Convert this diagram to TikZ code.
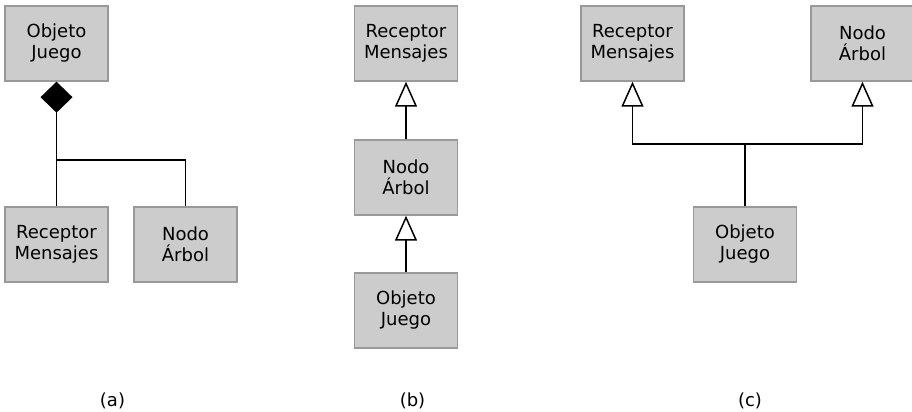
\documentclass[tikz,border=0pt]{standalone}
\usepackage{fontspec}
\setmainfont{DejaVu Sans}
\usetikzlibrary{arrows.meta}

\tikzset{
    class node/.style={rectangle,draw=gray!80,fill=gray!40,line width=0.7pt,
        minimum width=51.5pt,minimum height=37.5pt,align=center,
        font=\fontsize{9}{10.5}\selectfont},
    caption node/.style={font=\fontsize{9}{10.5}\selectfont},
    link/.style={draw,line width=0.75pt},
    compose/.style={link,{Diamond[length=15.5pt,width=16pt]}-},
    inherit/.style={link,-{Triangle[open,length=12.5pt,width=11pt,fill=white]}}
    }

\begin{document}
\begin{tikzpicture}[x=0.5pt,y=0.5pt]
    \useasboundingbox (0,0) rectangle (912,412);
    % (a) composition
    \node(oja)[class node] at (56.5,368.5) {Objeto\\Juego};
    \node(rma)[class node] at (56.5,167.5) {Receptor\\Mensajes};
    \node(naa)[class node] at (185.5,167.5) {Nodo\\Árbol};
    \coordinate(ja) at (56.5,252);
    \draw[compose] (oja.south) -- (ja) -- (rma.north);
    \draw[link] (ja) -| (naa.north);
    \node(capa)[caption node] at (112.5,11) {(a)};
    % (b) chain of inheritance
    \node(rmb)[class node] at (406,368.5) {Receptor\\Mensajes};
    \node(nab)[class node] at (406,234.5) {Nodo\\Árbol};
    \node(ojb)[class node] at (406,101.5) {Objeto\\Juego};
    \draw[inherit] (nab.north) -- (rmb.south);
    \draw[inherit] (ojb.north) -- (nab.south);
    \node(capb)[caption node] at (412.5,11) {(b)};
    % (c) multiple inheritance
    \node(rmc)[class node] at (632.5,368.5) {Receptor\\Mensajes};
    \node(nac)[class node] at (862.5,368.5) {Nodo\\Árbol};
    \node(ojc)[class node] at (745,167.5) {Objeto\\Juego};
    \coordinate(jc) at (745,268);
    \draw[link] (ojc.north) -- (jc);
    \draw[inherit] (jc) -| (rmc.south);
    \draw[inherit] (jc) -| (nac.south);
    \node(capc)[caption node] at (750,11) {(c)};
\end{tikzpicture}
\end{document}
